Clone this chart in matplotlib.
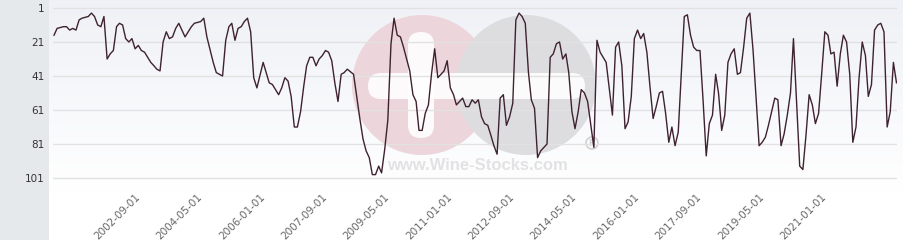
import numpy as np
import pandas as pd
import matplotlib.pyplot as plt
import matplotlib.dates as mdates
from matplotlib.patches import Circle, FancyBboxPatch, Rectangle

# ===============================
# DATA (rank over time, monthly)
# ===============================

start = "2000-06-01"

months = [0, 1, 3, 4, 5, 6, 7, 8, 9, 11, 12, 13, 14, 15, 16, 17, 18, 19, 20, 21,
          22, 23, 24, 25, 26, 27, 28, 29, 31, 32, 33, 34, 35, 36, 37, 38, 39, 40, 42, 43,
          44, 45, 47, 48, 49, 51, 52, 53, 54, 55, 56, 57, 58, 59, 60, 61, 62, 63, 64, 65,
          67, 69, 70, 72, 73, 74, 75, 76, 77, 78, 79, 80, 81, 82, 83, 84, 85, 86, 87, 88,
          89, 90, 91, 92, 93, 94, 96, 97, 98, 99, 100, 101, 102, 103, 104, 105, 106, 107, 108, 109,
          110, 111, 112, 113, 114, 115, 116, 117, 118, 119, 120, 121, 122, 123, 124, 125, 126, 127, 128, 129,
          130, 131, 132, 133, 134, 135, 136, 137, 138, 139, 140, 141, 142, 143, 144, 145, 146, 147, 148, 149,
          150, 151, 152, 153, 154, 155, 156, 157, 158, 159, 160, 161, 162, 163, 164, 165, 166, 167, 168, 169,
          170, 171, 173, 174, 175, 177, 179, 180, 181, 182, 183, 184, 185, 186, 187, 188, 189, 190, 191, 192,
          193, 194, 195, 196, 197, 198, 199, 200, 202, 203, 204, 205, 206, 207, 208, 209, 210, 211, 212, 213,
          214, 215, 216, 217, 218, 219, 220, 221, 222, 223, 224, 225, 226, 227, 228, 229, 230, 231, 232, 233,
          234, 235, 236, 237, 238, 239, 240, 241, 242, 243, 244, 245, 246, 247, 248, 249, 250, 251, 252, 253,
          254, 255, 256, 257, 258, 259, 260, 261, 262, 263, 264, 265, 266, 267, 268, 269, 270]

ranks = [17, 13, 12, 12, 14, 13, 14, 8, 7, 6, 4, 6, 11, 12, 6, 31, 28, 26, 12, 10,
         11, 19, 21, 19, 25, 23, 26, 27, 33, 35, 37, 38, 21, 15, 19, 18, 13, 10, 18, 15,
         12, 10, 9, 7, 18, 33, 39, 40, 41, 20, 12, 10, 20, 13, 12, 9, 7, 15, 42, 48,
         33, 45, 46, 52, 48, 42, 44, 53, 71, 71, 62, 47, 35, 30, 30, 35, 31, 29, 26, 27,
         32, 45, 56, 40, 39, 37, 40, 53, 66, 78, 85, 89, 99, 99, 94, 98, 84, 67, 22, 7,
         17, 18, 24, 31, 38, 52, 56, 73, 73, 63, 58, 40, 25, 42, 40, 38, 32, 48, 52, 58,
         56, 54, 59, 59, 55, 57, 55, 65, 69, 70, 76, 82, 87, 54, 52, 70, 65, 57, 8, 4,
         6, 10, 39, 55, 60, 89, 85, 83, 81, 30, 28, 22, 21, 31, 28, 39, 62, 72, 62, 49,
         51, 56, 83, 20, 27, 33, 64, 24, 21, 35, 72, 68, 53, 19, 14, 19, 16, 27, 47, 66,
         59, 51, 50, 63, 80, 71, 82, 74, 6, 5, 17, 24, 26, 26, 55, 88, 69, 64, 40, 51,
         73, 64, 33, 28, 25, 40, 39, 24, 7, 4, 26, 53, 82, 80, 77, 70, 62, 54, 55, 82,
         75, 64, 51, 19, 57, 94, 96, 76, 52, 58, 69, 63, 40, 15, 17, 28, 27, 47, 28, 17,
         21, 40, 80, 71, 42, 21, 29, 53, 46, 14, 11, 10, 15, 71, 62, 33, 45]

tick_dates = ["2002-09-01", "2004-05-01", "2006-01-01", "2007-09-01", "2009-05-01",
              "2011-01-01", "2012-09-01", "2014-05-01", "2016-01-01", "2017-09-01",
              "2019-05-01", "2021-01-01"]
y_ticks = [1, 21, 41, 61, 81, 101]

# ===============================
# FIGURE
# ===============================

W, H = 904, 240
fig = plt.figure(figsize=(W / 100, H / 100), dpi=100)
fig.patch.set_facecolor("white")

# left grey panel (behind the axes so tick labels stay visible)
fig.patches.append(Rectangle((0, 0), 49 / W, 1, transform=fig.transFigure,
                             facecolor="#e6e9ec", edgecolor="none", zorder=-1))

# background with gradient + watermark (pixel coordinates)
bg = fig.add_axes([49 / W, 0, (W - 49) / W, 1])
bg.set_xlim(49, W)
bg.set_ylim(H, 0)
bg.axis("off")
top = np.array([0.937, 0.945, 0.965])
t = np.clip(np.linspace(0, 1.25, H), 0, 1)[:, None]
grad = top[None, :] * (1 - t) + np.ones(3)[None, :] * t
bg.imshow(grad[:, None, :], extent=[49, W, H, 0], aspect="auto", zorder=0)

bg.add_patch(Circle((422, 85), 70, facecolor="#ecd5db", edgecolor="none", zorder=1))
bg.add_patch(Circle((526, 85), 70, facecolor="#dddddf", edgecolor="none", zorder=1))
bg.add_patch(FancyBboxPatch((368, 73), 217, 26, boxstyle="round,pad=0,rounding_size=13",
                            facecolor="white", edgecolor="none", alpha=0.9, zorder=2))
bg.add_patch(FancyBboxPatch((408, 32), 26, 106, boxstyle="round,pad=0,rounding_size=13",
                            facecolor="white", edgecolor="none", alpha=0.9, zorder=2))
bg.add_patch(Circle((592, 143), 6, facecolor="none", edgecolor="#d2d2d2", lw=1.2, zorder=2))
bg.text(592, 143.5, "R", ha="center", va="center", fontsize=6, color="#d2d2d2",
        fontweight="bold", zorder=2)
bg.text(477, 166, "www.Wine-Stocks.com", ha="center", va="center", fontsize=12,
        fontweight="bold", family="Liberation Sans", color="#e2e2e4", zorder=2)

# ===============================
# MAIN AXES
# ===============================

dates = [pd.Timestamp(start) + pd.DateOffset(months=m) for m in months]
x = mdates.date2num(dates)

ax = fig.add_axes([53 / W, (H - 186) / H, (897 - 53) / W, 186 / H])
ax.set_facecolor("none")
ax.plot(x, ranks, color="#3e2230", lw=1.0, zorder=3)

x0 = mdates.date2num(pd.Timestamp(start))
ax.set_xlim(x0 - 10, mdates.date2num(dates[-1]) + 5)
ax.set_ylim(105.7, -3.7)

ax.set_yticks(y_ticks)
ax.set_yticklabels([str(v) for v in y_ticks])
ax.set_xticks(mdates.date2num(pd.to_datetime(tick_dates)))
ax.set_xticklabels(tick_dates, rotation=45, ha="right", va="center",
                   rotation_mode="anchor")

ax.grid(axis="y", color="#e2e2e2", lw=1)
ax.set_axisbelow(True)
for s in ax.spines.values():
    s.set_visible(False)
ax.tick_params(axis="y", length=0, pad=6, labelsize=7.5, labelcolor="#333333")
ax.tick_params(axis="x", length=0, pad=7, labelsize=7.5, labelcolor="#666666")

fig.savefig("out.png", dpi=100)
